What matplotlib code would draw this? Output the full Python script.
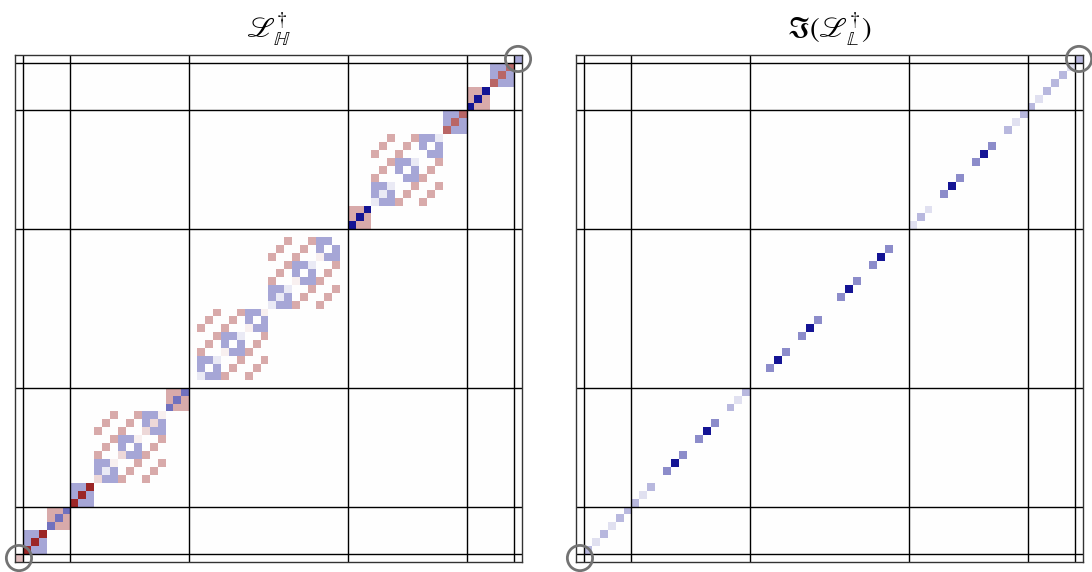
import numpy as np
import matplotlib.pyplot as plt
from matplotlib.colors import LinearSegmentedColormap

plt.rcParams['mathtext.fontset'] = 'stix'

N = 64
block_edges = [1, 7, 22, 42, 57, 63]   # sizes 1, 6, 15, 20, 15, 6, 1

# colour levels (negative = blue, positive = red)
levels = {'.': 0.0, 'w': 0.06, 'q': 0.15, 'k': 0.25, 'p': 0.33, 'r': 0.6, 'R': 0.85,
          'm': -0.08, 'e': -0.12, 'f': -0.28, 'l': -0.35, 'g': -0.45, 'b': -0.55, 'B': -0.92}

# left panel: diagonal blocks, rows written top to bottom as seen
cell_0 = ["k"]
deg1_a = ["llR", "lRl", "Rll"]
deg1_b = ["ppb", "pbp", "bpp"]
deg2_a = ["llR", "lRl", "Rll"]
deg2_mid = ["..p..pllw",
            ".p..p.lql",
            "p..p..qll",
            "..pllw..p",
            ".p.l.l.p.",
            "p..qllp..",
            "llw..p..p",
            "lml.p..p.",
            "qllp..p.."]
deg2_b = ["ppb", "pbp", "bpp"]
deg3_lo = ["..p..pllw",
           ".p..p.l.l",
           "p..p..wll",
           "..pllm..p",
           ".p.l.l.p.",
           "p..wllp..",
           "llm..p..p",
           "l.l.p..p.",
           "mllp..p.."]
deg3_hi = ["..p..pll.",
           ".p..p.l.l",
           "p..p..wll",
           "..pllm..p",
           ".p.l.l.p.",
           "p..wllp..",
           "llm..p..p",
           "lml.p..p.",
           "mllp..p.."]
deg4_a = ["ppB", "pBp", "Bpp"]
deg4_mid = ["..p..pllm",
            ".p..p.l.l",
            "p..p...ll",
            "..pllm..p",
            ".p.l.l.p.",
            "p...llp..",
            "llm..p..p",
            "lml.p..p.",
            "mllp..p.."]
deg4_b = ["llr", "lrl", "rll"]
deg5_a = ["ppB", "pBp", "Bpp"]
deg5_b = ["llr", "lrl", "rll"]
cell_63 = ["l"]

left_blocks = [(0, cell_0), (1, deg1_a), (4, deg1_b), (7, deg2_a), (10, deg2_mid),
               (19, deg2_b), (23, deg3_lo), (32, deg3_hi), (42, deg4_a),
               (45, deg4_mid), (54, deg4_b), (57, deg5_a), (60, deg5_b), (63, cell_63)]

# right panel: only the diagonal is filled
right_diag = (".fefefffef"
              ".gBg.gBg."
              "fef"
              "..gBg.gBg..gBg.gBg.."
              "efe"
              ".gBg.gBg."
              "fef"
              "fefffe"
              "f")


def build(blocks):
    m = np.zeros((N, N))
    for start, rows in blocks:
        n = len(rows)
        for k, row in enumerate(rows):
            for j, ch in enumerate(row):
                m[start + n - 1 - k, start + j] = levels[ch]
    return m


left = build(left_blocks)
right = np.zeros((N, N))
for i, ch in enumerate(right_diag):
    right[i, i] = levels[ch]

cmap = LinearSegmentedColormap.from_list('bwr_dark', ['#00008b', 'white', '#8b0000'])

fig = plt.figure(figsize=(10.92, 5.72), dpi=100)
ax1 = fig.add_axes([15 / 1092, 10 / 572, 507 / 1092, 507 / 572])
ax2 = fig.add_axes([576 / 1092, 10 / 572, 507 / 1092, 507 / 572])

titles = [r'$\mathscr{L}_{\mathbb{H}}^{\dagger}$',
          r'$\mathfrak{I}(\mathscr{L}_{\mathbb{L}}^{\dagger})$']

for ax, mat, title in zip([ax1, ax2], [left, right], titles):
    ax.imshow(mat, origin='lower', cmap=cmap, vmin=-1, vmax=1,
              interpolation='nearest', extent=(0, N, 0, N))
    for e in block_edges:
        ax.axhline(e, color='black', lw=1)
        ax.axvline(e, color='black', lw=1)
    for s in ax.spines.values():
        s.set_color('0.2')
        s.set_linewidth(1)
    ax.scatter([0.5, N - 0.5], [0.5, N - 0.5], s=330, facecolors='none',
               edgecolors='0.45', linewidths=2, clip_on=False, zorder=5)
    ax.set_xticks([])
    ax.set_yticks([])
    ax.set_xlim(0, N)
    ax.set_ylim(0, N)
    ax.set_title(title, fontsize=21, pad=12)

fig.savefig('out.png', dpi=100)
